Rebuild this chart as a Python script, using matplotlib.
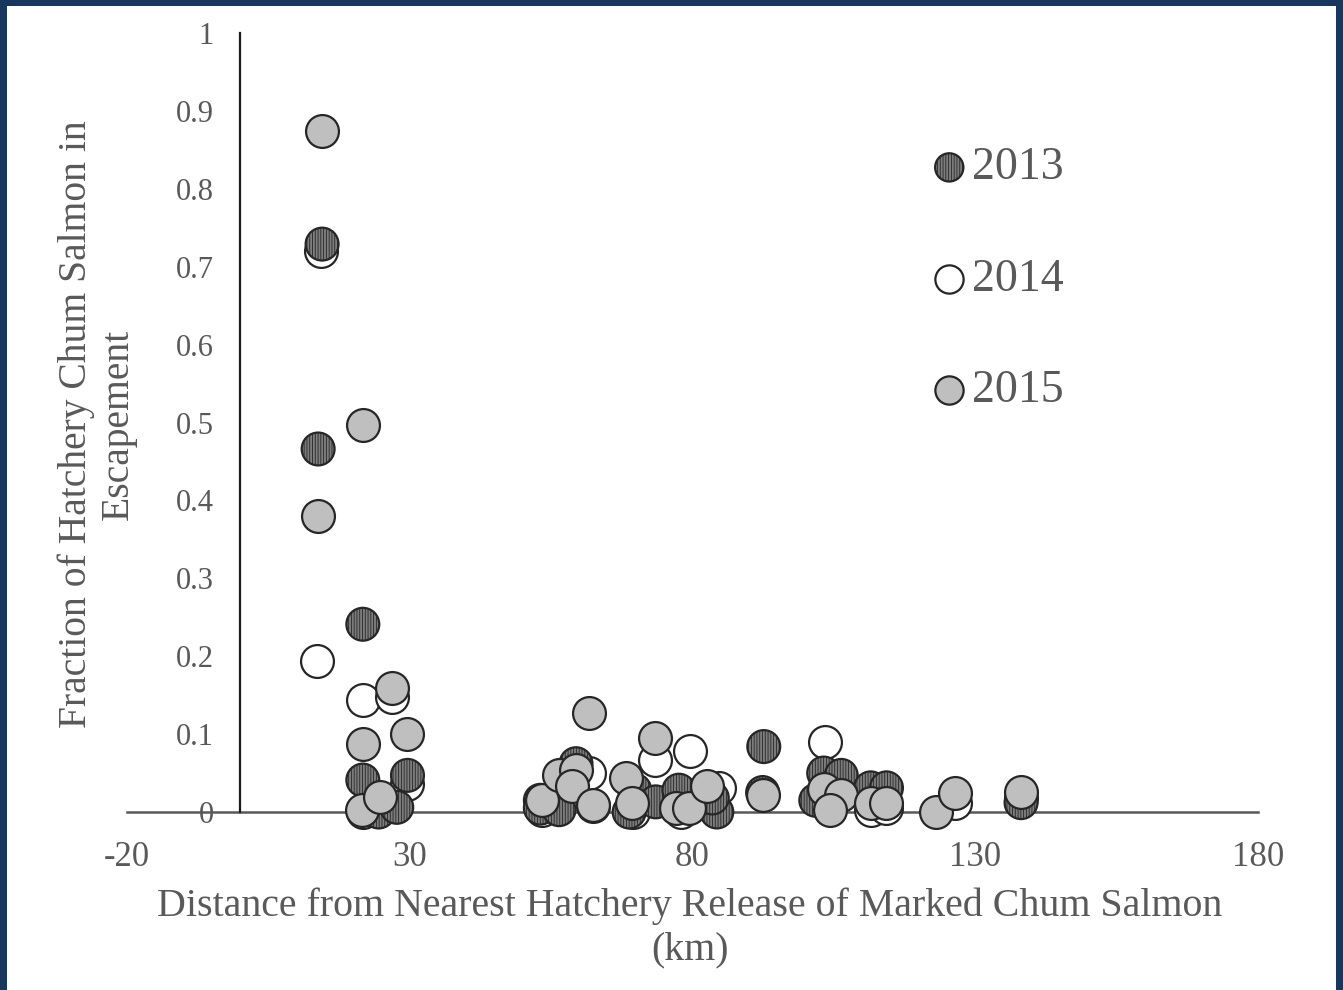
import matplotlib
matplotlib.use("Agg")
import matplotlib.pyplot as plt
from matplotlib.patches import Rectangle

plt.rcParams['font.family'] = ['Liberation Serif', 'DejaVu Serif']
plt.rcParams['hatch.linewidth'] = 0.6
plt.rcParams['axes.unicode_minus'] = False

# ---- data ----
x_2013 = [14.5, 13.8, 21.7, 21.7, 24.5, 27.7, 29.6, 53.1, 53.1, 56.4, 59.4, 68.8, 69.8,
          73.5, 77.6, 84.3, 83.5, 92.6, 92.4, 103.2, 106.3, 101.8, 111.5, 114.3, 138.1]
y_2013 = [0.729, 0.466, 0.241, 0.041, 0.0, 0.006, 0.047, 0.015, 0.005, 0.003, 0.062, 0.0, 0.028,
          0.013, 0.028, 0.0, 0.018, 0.084, 0.025, 0.050, 0.047, 0.015, 0.031, 0.031, 0.012]

x_2014 = [14.3, 13.6, 21.7, 26.8, 29.6, 21.7, 53.4, 61.7, 62.4, 69.5, 73.4, 79.5, 77.9,
          84.7, 103.4, 104.4, 111.5, 114.3, 126.5, 138.1]
y_2014 = [0.720, 0.194, 0.144, 0.148, 0.036, 0.0, 0.003, 0.050, 0.008, 0.0, 0.067, 0.078, 0.0,
          0.031, 0.090, 0.035, 0.003, 0.005, 0.011, 0.018]

x_2015 = [14.5, 13.8, 21.7, 21.7, 21.5, 24.7, 26.8, 29.6, 53.4, 56.4, 59.4, 58.7, 62.4, 61.7,
          68.3, 69.3, 73.4, 77.0, 79.4, 82.5, 92.4, 103.2, 106.3, 104.4, 111.5, 114.3, 123.1,
          126.5, 138.1]
y_2015 = [0.874, 0.380, 0.497, 0.087, 0.003, 0.019, 0.159, 0.100, 0.015, 0.047, 0.054, 0.033,
          0.009, 0.127, 0.044, 0.012, 0.095, 0.005, 0.005, 0.033, 0.022, 0.030, 0.022, 0.003,
          0.011, 0.011, 0.0, 0.024, 0.026]

series_labels = ['2013', '2014', '2015']
x_ticks = [-20, 30, 80, 130, 180]
y_ticks = [0, 0.1, 0.2, 0.3, 0.4, 0.5, 0.6, 0.7, 0.8, 0.9, 1]
y_tick_labels = ['0', '0.1', '0.2', '0.3', '0.4', '0.5', '0.6', '0.7', '0.8', '0.9', '1']
x_label = 'Distance from Nearest Hatchery Release of Marked Chum Salmon\n(km)'
y_label = 'Fraction of Hatchery Chum Salmon in\nEscapement'

TXT = '#595959'
EDGE = '#262626'

W, H = 1343, 990
fig = plt.figure(figsize=(W / 100, H / 100), dpi=100)
fig.patch.set_facecolor('#17375e')
fig.add_artist(Rectangle((7 / W, 0), (1336 - 7) / W, (H - 6) / H,
                         transform=fig.transFigure, facecolor='white', edgecolor='none', zorder=0))

ax = fig.add_axes([127 / W, (H - 812) / H, (1258 - 127) / W, (812 - 33) / H])
ax.set_facecolor('none')

s = 560
ax.scatter(x_2014, y_2014, s=s, facecolor='white', edgecolor=EDGE, linewidth=1.6,
           zorder=3, label=series_labels[1], clip_on=False)
ax.scatter(x_2013, y_2013, s=s, facecolor='#7d7d7d', edgecolor=EDGE, linewidth=1.6,
           hatch='||||||', zorder=4, label=series_labels[0], clip_on=False)
ax.scatter(x_2015, y_2015, s=s, facecolor='#bfbfbf', edgecolor=EDGE, linewidth=1.6,
           zorder=5, label=series_labels[2], clip_on=False)

ax.set_xlim(-20, 180)
ax.set_ylim(0, 1)

ax.spines['top'].set_visible(False)
ax.spines['right'].set_visible(False)
ax.spines['left'].set_position(('data', 0))
ax.spines['left'].set_color('#1a1a1a')
ax.spines['left'].set_linewidth(1.6)
ax.spines['bottom'].set_color('#595959')
ax.spines['bottom'].set_linewidth(1.8)
ax.spines['bottom'].set_zorder(2)

ax.set_xticks(x_ticks)
ax.set_yticks(y_ticks)
ax.set_yticklabels(y_tick_labels)
ax.tick_params(axis='both', length=0, colors=TXT)
ax.tick_params(axis='y', labelsize=22, pad=19)
ax.tick_params(axis='x', labelsize=25, pad=21)

fig.text(97 / W, 1 - 424 / H, y_label, rotation=90, ha='center', va='center',
         fontsize=28.5, color=TXT, linespacing=1.15)
fig.text(690 / W, 1 - 928 / H, x_label, ha='center', va='center',
         fontsize=28.7, color=TXT, linespacing=1.2)

handles, labels = ax.get_legend_handles_labels()
order = [labels.index(l) for l in series_labels]
ms = 0.86
leg = ax.legend([handles[i] for i in order], [labels[i] for i in order],
                loc='upper left', bbox_to_anchor=((908 - 127) / (1258 - 127), (812 - 124) / (812 - 33)),
                frameon=False, fontsize=33, labelcolor=TXT, markerscale=ms,
                labelspacing=1.5, handletextpad=0.1, handlelength=0.8, borderpad=0)
for h in leg.legend_handles:
    h.set_sizes([560 * ms ** 2])

fig.savefig('out.png', dpi=100)
